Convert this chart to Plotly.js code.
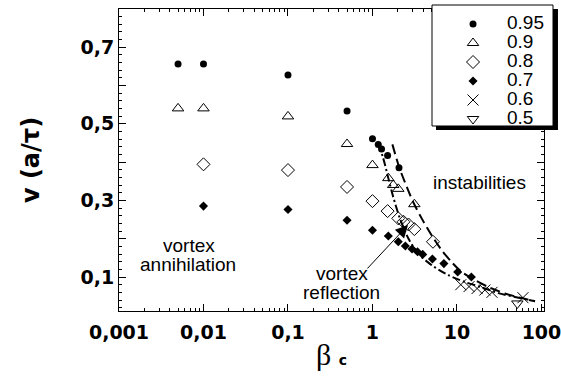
<!DOCTYPE html>
<html><head><meta charset="utf-8">
<script src="https://cdn.plot.ly/plotly-3.0.1.min.js"></script>
<style>html,body{margin:0;padding:0;background:#fff}#chart{width:561px;height:379px}</style>
</head><body><div id="chart"></div>
<script>
// ---- tick labels ----
const xTickVals = [0.001, 0.01, 0.1, 1, 10, 100];
const xTickText = ['0,001', '0,01', '0,1', '1', '10', '100'];
const yTickVals = [0.1, 0.2, 0.3, 0.4, 0.5, 0.6, 0.7];
const yTickText = ['0,1', '', '0,3', '', '0,5', '', '0,7'];
const seriesNames = ['0.95', '0.9', '0.8', '0.7', '0.6', '0.5'];

// ---- data (beta_c, v) ----
const beta095 = [0.005, 0.01, 0.1, 0.5, 1.0, 1.17, 1.28, 1.51, 2.06];
const v095    = [0.656, 0.656, 0.627, 0.533, 0.461, 0.446, 0.434, 0.417, 0.385];

const beta09 = [0.005, 0.01, 0.1, 0.5, 1.0, 1.54, 1.76, 2.02, 3.13];
const v09    = [0.54, 0.54, 0.519, 0.447, 0.392, 0.358, 0.34, 0.33, 0.29];

const beta08 = [0.01, 0.1, 0.5, 1.0, 1.51, 2.02, 2.33, 2.67, 3.13, 5.2];
const v08    = [0.394, 0.379, 0.335, 0.298, 0.272, 0.253, 0.244, 0.237, 0.225, 0.192];

const beta07 = [0.01, 0.1, 0.5, 1.0, 1.54, 2.02, 2.45, 2.94, 3.41, 3.93, 5.12, 7.0, 10.2, 14.8];
const v07    = [0.285, 0.276, 0.248, 0.222, 0.207, 0.192, 0.181, 0.173, 0.166, 0.159, 0.147, 0.135, 0.113, 0.100];

const beta06 = [11.1, 13.9, 17.3, 21.4, 26.0, 60.4];
const v06    = [0.080, 0.075, 0.070, 0.066, 0.060, 0.046];

const beta05 = [51.8];
const v05    = [0.031];

// boundary curves
const upperBeta = [1.72, 2.08, 2.54, 3.04, 3.82, 5.01, 6.59, 8.65, 11.4, 16.3, 23.5, 37.0, 58.3, 83.8];
const upperV    = [0.446, 0.385, 0.336, 0.295, 0.253, 0.209, 0.170, 0.139, 0.113, 0.092, 0.074, 0.057, 0.045, 0.037];
const lowerBeta = [1.17, 1.34, 1.54, 1.76, 2.11, 2.65, 3.49, 5.01, 7.89, 12.4, 19.6, 30.8, 48.5, 83.8];
const lowerV    = [0.449, 0.410, 0.358, 0.309, 0.253, 0.201, 0.161, 0.131, 0.105, 0.087, 0.073, 0.058, 0.048, 0.037];

// minor log tick positions
const xMinor = [];
[0.001, 0.01, 0.1, 1, 10].forEach(d => { for (let k = 2; k <= 9; k++) xMinor.push(+(d * k).toPrecision(3)); });

const K = '#000';
function legName(t) { return "<span style='font-size:19px'>" + t + "</span>"; }
function pts(x, y, name, marker) {
  return {x: x, y: y, name: legName(name), type: 'scatter', mode: 'markers', marker: marker, cliponaxis: false};
}
const traces = [
  {x: upperBeta, y: upperV, type: 'scatter', mode: 'lines', showlegend: false, hoverinfo: 'skip',
   line: {color: K, width: 2, dash: '10px,5px', shape: 'spline', smoothing: 0.8}},
  {x: lowerBeta, y: lowerV, type: 'scatter', mode: 'lines', showlegend: false, hoverinfo: 'skip',
   line: {color: K, width: 2, dash: '8px,3px,2px,3px', shape: 'spline', smoothing: 0.8}},
  pts(beta095, v095, seriesNames[0], {symbol: 'circle', size: 7, color: K}),
  pts(beta09, v09, seriesNames[1], {symbol: 'triangle-up-open', size: 10, color: K, line: {width: 1}}),
  pts(beta08, v08, seriesNames[2], {symbol: 'diamond-open', size: 10, color: K, line: {width: 1}}),
  pts(beta07, v07, seriesNames[3], {symbol: 'diamond', size: 7, color: K}),
  pts(beta06, v06, seriesNames[4], {symbol: 'x-thin-open', size: 11, color: K, line: {width: 1, color: K}}),
  pts(beta05, v05, seriesNames[5], {symbol: 'triangle-down-open', size: 10, color: K, line: {width: 1}})
];

const tickFont = {family: 'DejaVu Sans', size: 19, color: K, weight: 'bold'};
const txtFont = {family: 'Liberation Sans', size: 19, color: K};
function lab(text, x, y) {
  return {text: text, x: x, y: y, xref: 'paper', yref: 'paper', showarrow: false,
          xanchor: 'center', yanchor: 'middle', font: txtFont};
}

const layout = {
  width: 561, height: 379,
  margin: {l: 119, r: 17, t: 9, b: 68, pad: 0, autoexpand: false},
  paper_bgcolor: '#fff', plot_bgcolor: '#fff',
  showlegend: true,
  xaxis: {
    type: 'log', range: [-3, 2.03], showgrid: false, zeroline: false, automargin: false,
    showline: true, linecolor: K, linewidth: 1, mirror: 'ticks',
    ticks: 'inside', ticklen: 7, tickwidth: 1, tickcolor: K,
    tickmode: 'array', tickvals: xTickVals, ticktext: xTickText,
    tickfont: tickFont, ticklabelstandoff: 4, ticklabeloverflow: 'allow',
    minor: {tickmode: 'array', tickvals: xMinor, ticks: 'inside', ticklen: 3, tickwidth: 1, tickcolor: K, showgrid: false},
    title: {text: "β <span style='font-family:DejaVu Sans;font-weight:bold;font-size:14px'>c</span>",
            font: {family: 'Liberation Serif', size: 30, color: K}, standoff: 2}
  },
  yaxis: {
    range: [0.0113, 0.7993], showgrid: false, zeroline: false, automargin: false,
    showline: true, linecolor: K, linewidth: 1, mirror: 'ticks',
    ticks: 'inside', ticklen: 7, tickwidth: 1, tickcolor: K,
    tickmode: 'array', tickvals: yTickVals, ticktext: yTickText,
    tickfont: tickFont, ticklabelstandoff: 0,
    minor: {dtick: 0.02, tick0: 0, ticks: 'inside', ticklen: 3, tickwidth: 1, tickcolor: K, showgrid: false},
    title: {text: 'v (a/τ)', font: {family: 'DejaVu Sans', size: 24, color: K, weight: 'bold'}, standoff: 34}
  },
  legend: {
    x: 0.753, y: 0.9983, xanchor: 'left', yanchor: 'top', xref: 'paper', yref: 'paper',
    bgcolor: 'rgba(0,0,0,0)', borderwidth: 0,
    font: {family: 'Liberation Sans', size: 12, color: K},
    itemwidth: 58, traceorder: 'normal'
  },
  shapes: [
    {type: 'rect', xref: 'paper', yref: 'paper', layer: 'above',
     x0: 0.7459, x1: 1.0329, y0: 0.5993, y1: 1.0000, fillcolor: K, line: {width: 0}},
    {type: 'rect', xref: 'paper', yref: 'paper', layer: 'above',
     x0: 0.7365, x1: 1.0212, y0: 0.6126, y1: 1.0132, fillcolor: '#fff', line: {width: 1, color: K}}
  ],
  annotations: [
    lab('instabilities', 0.849, 0.424),
    lab('vortex', 0.164, 0.2185),
    lab('annihilation', 0.162, 0.1556),
    lab('vortex', 0.5247, 0.1258),
    lab('reflection', 0.5224, 0.0629),
    {text: '', x: 0.680, y: 0.2848, xref: 'paper', yref: 'paper', showarrow: true,
     ax: -42, ay: 45, arrowhead: 2, arrowsize: 2.5, arrowwidth: 1, arrowcolor: K}
  ]
};

Plotly.newPlot('chart', traces, layout, {staticPlot: true});
</script>
</body></html>
